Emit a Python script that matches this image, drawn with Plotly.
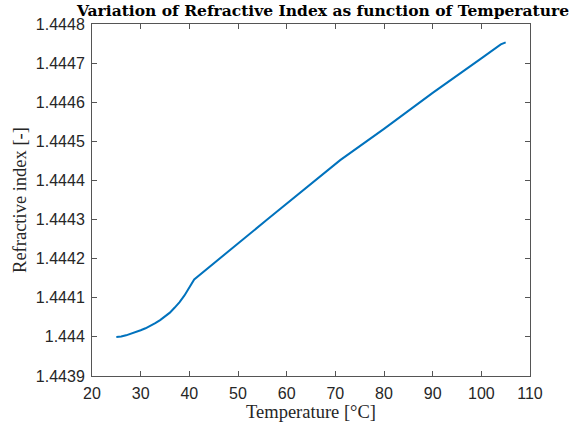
import plotly.graph_objects as go

# Temperature samples [°C]
temperature = [25, 26, 27, 28, 29, 30, 31, 32, 33, 34, 35, 36, 37, 38, 39, 40, 41,
               56, 71, 80, 90, 100, 104, 105]

# Refractive index at each temperature [-]
refractive_index = [1.444000, 1.444001, 1.444004, 1.444008, 1.444012, 1.444017,
                    1.444022, 1.444028, 1.444035, 1.444043, 1.444052, 1.444062,
                    1.444075, 1.444089, 1.444106, 1.444126, 1.444147,
                    1.444300, 1.444452, 1.444532, 1.444624, 1.444712,
                    1.444748, 1.444753]

x_ticks = [20, 30, 40, 50, 60, 70, 80, 90, 100, 110]
y_ticks = [1.4439, 1.4440, 1.4441, 1.4442, 1.4443, 1.4444, 1.4445, 1.4446, 1.4447, 1.4448]
y_tick_text = ["1.4439", "1.444", "1.4441", "1.4442", "1.4443", "1.4444",
               "1.4445", "1.4446", "1.4447", "1.4448"]

AXIS_COLOR = "#555555"
TEXT_COLOR = "#262626"
SERIF = "Liberation Serif"
SANS = "Liberation Sans, Arial, sans-serif"

fig = go.Figure()
fig.add_trace(go.Scatter(
    x=temperature, y=refractive_index, mode="lines",
    line=dict(color="#0072BD", width=2),
    showlegend=False,
))

axis_common = dict(
    showgrid=False, zeroline=False, automargin=False,
    showline=True, linecolor=AXIS_COLOR, linewidth=1,
    mirror="ticks", ticks="inside", ticklen=5, tickcolor=AXIS_COLOR,
    tickfont=dict(family=SANS, size=16, color=TEXT_COLOR),
    ticklabelstandoff=3,
)

fig.update_layout(
    width=580, height=425,
    margin=dict(l=92, r=50, t=24, b=49),
    paper_bgcolor="white", plot_bgcolor="white",
    title=dict(
        text="<b>Variation of Refractive Index as function of Temperature</b>",
        font=dict(family="DejaVu Serif", size=15.5, color="black"),
        x=323 / 580, xanchor="center",
        y=1 - 11 / 425, yanchor="middle", yref="container",
    ),
    xaxis=dict(
        range=[20, 110], tickvals=x_ticks,
        title=dict(text="Temperature [°C]", standoff=2,
                   font=dict(family=SERIF, size=18.5, color=TEXT_COLOR)),
        **axis_common,
    ),
    yaxis=dict(
        range=[1.4439, 1.4448], tickvals=y_ticks, ticktext=y_tick_text,
        title=dict(text="Refractive index [-]", standoff=4,
                   font=dict(family=SERIF, size=18.5, color=TEXT_COLOR)),
        **axis_common,
    ),
)

fig.write_html("out.html")
